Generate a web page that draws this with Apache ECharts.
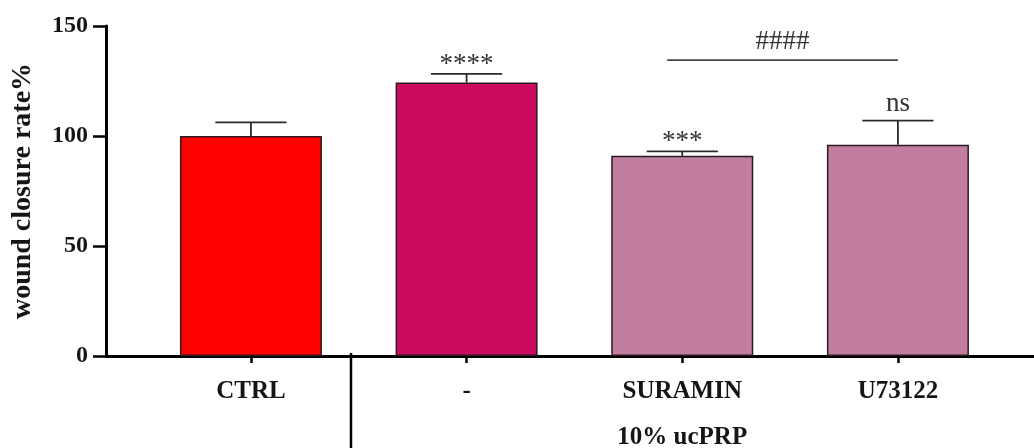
<!DOCTYPE html>
<html>
<head>
<meta charset="utf-8">
<script src="https://cdn.jsdelivr.net/npm/echarts@6/dist/echarts.min.js"></script>
<style>
  html, body { margin: 0; padding: 0; background: #fff; }
  #chart { width: 1034px; height: 448px; }
</style>
</head>
<body>
<div id="chart"></div>
<script>
// Treatment groups and measured wound closure (mean and upper error bound)
const categories = ['CTRL', '-', 'SURAMIN', 'U73122'];
const means = [100, 124.3, 91, 96];
const upperBounds = [106.2, 128.2, 93, 107];
const significance = ['', '****', '***', 'ns'];
const barColors = ['#ff0000', '#cc0a60', '#c27e9f', '#c27e9f'];
const yTicks = [0, 50, 100, 150];

// Comparison bracket between SURAMIN and U73122 groups
const bracketFrom = [1.93];
const bracketTo = [3];
const bracketLevel = [134.5];
const bracketText = ['####'];

// Grouping under the category axis
const groupLabel = '10% ucPRP';
const groupCenter = 2;
const groupDividerAt = 0.464;

const FONT = '"Liberation Serif", "Times New Roman", serif';
const catIndex = categories.map((_, i) => i);

const chart = echarts.init(document.getElementById('chart'), null, { renderer: 'canvas' });

const option = {
  animation: false,
  backgroundColor: '#ffffff',
  grid: { left: 106, right: 0, top: 26, bottom: 92 },
  xAxis: {
    type: 'value',
    min: -0.672,
    max: 3.631,
    splitLine: { show: false },
    axisLine: { show: true, onZero: false, lineStyle: { color: '#000', width: 3 } },
    axisTick: { show: true, customValues: catIndex, length: 7, lineStyle: { color: '#000', width: 2.5 } },
    axisLabel: {
      customValues: catIndex,
      formatter: v => categories[Math.round(v)],
      fontFamily: FONT, fontWeight: 'bold', fontSize: 25, color: '#151515', margin: 23
    }
  },
  yAxis: {
    type: 'value',
    min: yTicks[0],
    max: yTicks[yTicks.length - 1],
    interval: yTicks[1] - yTicks[0],
    splitLine: { show: false },
    axisLine: { show: true, onZero: false, lineStyle: { color: '#000', width: 3 } },
    axisTick: { show: true, length: 13, lineStyle: { color: '#000', width: 2.5 } },
    axisLabel: { fontFamily: FONT, fontWeight: 'bold', fontSize: 24, color: '#151515', margin: 18 },
    name: 'wound closure rate%',
    nameLocation: 'middle',
    nameRotate: 90,
    nameGap: 69,
    nameTextStyle: { fontFamily: FONT, fontWeight: 'bold', fontSize: 28, color: '#151515' }
  },
  series: [
    {
      type: 'bar',
      barWidth: 142,
      data: means.map((v, i) => ({ value: [i, v], itemStyle: { color: barColors[i] } })),
      itemStyle: { borderColor: '#2b1b20', borderWidth: 1.5 },
      z: 2
    },
    {
      // error bars with significance marks
      type: 'custom',
      z: 3,
      clip: false,
      data: means.map((v, i) => [i, v, upperBounds[i]]),
      renderItem: (params, api) => {
        const x = api.value(0);
        const top = api.coord([x, api.value(1)]);
        const cap = api.coord([x, api.value(2)]);
        const halfCap = api.size([1, 0])[0] * 0.165;
        const lineStyle = { stroke: '#2a2a2a', lineWidth: 1.8 };
        const children = [
          { type: 'line', shape: { x1: top[0], y1: top[1], x2: cap[0], y2: cap[1] }, style: lineStyle },
          { type: 'line', shape: { x1: cap[0] - halfCap, y1: cap[1], x2: cap[0] + halfCap, y2: cap[1] }, style: lineStyle }
        ];
        const mark = significance[params.dataIndex];
        if (mark) {
          // asterisks sit high in the glyph box, so they are set a little lower
          const lift = mark.indexOf('*') >= 0 ? -4 : 3;
          children.push({
            type: 'text',
            style: {
              text: mark, x: cap[0], y: cap[1] - lift,
              align: 'center', verticalAlign: 'bottom',
              font: '27px ' + FONT, fill: '#333'
            }
          });
        }
        return { type: 'group', children };
      }
    },
    {
      // comparison bracket
      type: 'custom',
      z: 3,
      clip: false,
      data: bracketFrom.map((f, i) => [f, bracketTo[i], bracketLevel[i]]),
      renderItem: (params, api) => {
        const a = api.coord([api.value(0), api.value(2)]);
        const b = api.coord([api.value(1), api.value(2)]);
        return {
          type: 'group',
          children: [
            { type: 'line', shape: { x1: a[0], y1: a[1], x2: b[0], y2: b[1] }, style: { stroke: '#444', lineWidth: 1.8 } },
            {
              type: 'text',
              style: {
                text: bracketText[params.dataIndex], x: (a[0] + b[0]) / 2, y: a[1] - 5,
                align: 'center', verticalAlign: 'bottom',
                font: '27px ' + FONT, fill: '#333'
              }
            }
          ]
        };
      }
    },
    {
      // group divider and group caption under the axis
      type: 'custom',
      z: 3,
      clip: false,
      data: [[groupDividerAt, groupCenter]],
      renderItem: (params, api) => {
        const d = api.coord([api.value(0), 0]);
        const c = api.coord([api.value(1), 0]);
        return {
          type: 'group',
          children: [
            { type: 'line', shape: { x1: d[0], y1: d[1] - 3, x2: d[0], y2: api.getHeight() }, style: { stroke: '#000', lineWidth: 2.5 } },
            {
              type: 'text',
              style: {
                text: groupLabel, x: c[0], y: c[1] + 82,
                align: 'center', verticalAlign: 'middle',
                font: 'bold 25px ' + FONT, fill: '#151515'
              }
            }
          ]
        };
      }
    }
  ]
};

chart.setOption(option);
</script>
</body>
</html>
